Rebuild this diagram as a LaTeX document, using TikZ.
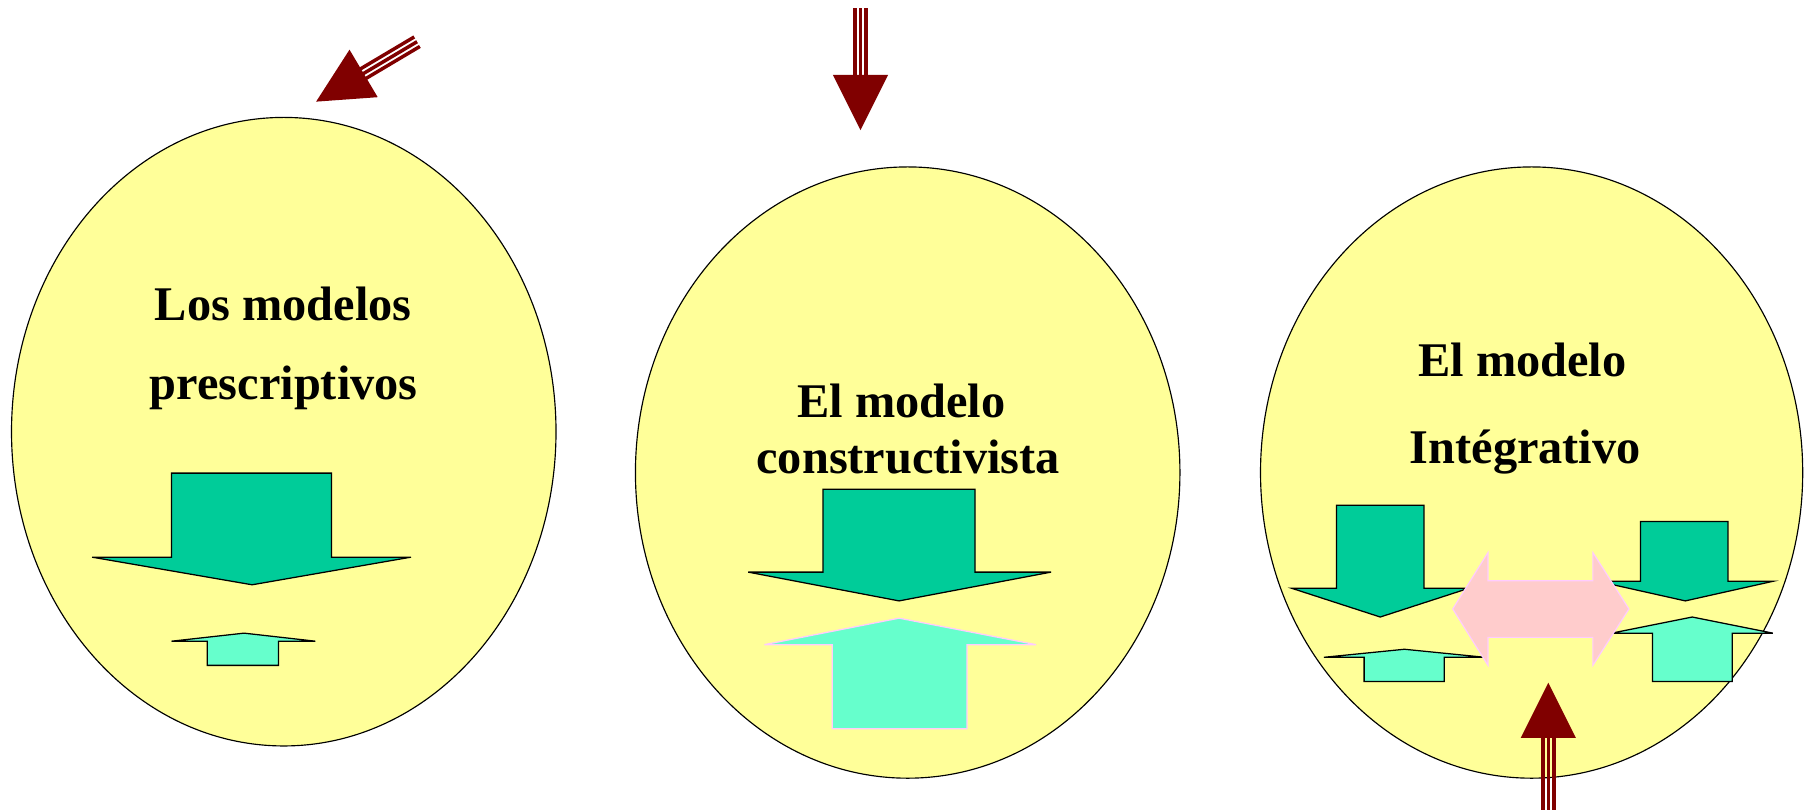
\documentclass[tikz,border=0pt]{standalone}
\usepackage{fontspec}
\setmainfont{Liberation Serif}
\usetikzlibrary{shapes.geometric}
\definecolor{yellowc}{HTML}{FFFF99}
\definecolor{greenc}{HTML}{00CC99}
\definecolor{lightc}{HTML}{66FFCC}
\definecolor{pinkc}{HTML}{FFCCCC}
\definecolor{pinkline}{HTML}{FFCCFF}
\definecolor{maroonc}{HTML}{800000}
\tikzset{
  oval/.style={ellipse, draw=black, line width=1pt, fill=yellowc, inner sep=0pt},
  titletext/.style={font=\bfseries\fontsize{42}{50}\selectfont, inner sep=0pt, anchor=base},
  downarrow/.style={draw=black, line width=1.1pt, fill=greenc, line join=miter},
  uparrow/.style={draw=black, line width=1.1pt, fill=lightc, line join=miter},
  uparrowpink/.style={draw=pinkline, line width=1.1pt, fill=lightc, line join=miter},
  dblarrow/.style={draw=pinkline, line width=1pt, fill=pinkc, line join=miter},
  striparrow/.pic={
    \fill[maroonc] (-24,-48) -- (24,-48) -- (0,0) -- cycle;
    \foreach \d in {-4.8,0,4.8}
      \draw[maroonc, line width=3pt] (\d,-47.5) -- (\d,-#1);
  }
}
\begin{document}
\begin{tikzpicture}[x=1pt,y=-1pt]
\useasboundingbox (0,0) rectangle (1568,703.6);
\fill[white] (0,0) rectangle (1568,703.6);

% ovals
\node[oval, minimum width=473pt, minimum height=546pt] (e1) at (246.5,375) {};
\node[oval, minimum width=473pt, minimum height=531pt] (e2) at (788.5,410.5) {};
\node[oval, minimum width=471pt, minimum height=531pt] (e3) at (1330.5,410.5) {};

% titles
\node[titletext] (t1a) at (246,278) {Los modelos};
\node[titletext] (t1b) at (246.5,347) {prescriptivos};
\node[titletext] (t2a) at (783,363) {El modelo};
\node[titletext] (t2b) at (789,411) {constructivista};
\node[titletext] (t3a) at (1322.5,327) {El modelo};
\node[titletext] (t3b) at (1325,403) {Intégrativo};

% left oval arrows
\draw[downarrow] (149,411) -- (288,411) -- (288,484) -- (357,484) -- (219,508) -- (80,484) -- (149,484) -- cycle;
\draw[uparrow] (180,578) -- (242,578) -- (242,557) -- (274,557) -- (212,550) -- (149,557) -- (180,557) -- cycle;

% middle oval arrows
\draw[downarrow] (715,425) -- (847,425) -- (847,497) -- (913,497) -- (781,522) -- (650,497) -- (715,497) -- cycle;
\draw[uparrowpink] (723,633) -- (840,633) -- (840,560) -- (900,560) -- (781,537) -- (664,560) -- (723,560) -- cycle;

% right oval arrows
\draw[downarrow] (1161,439) -- (1237,439) -- (1237,511) -- (1276,511) -- (1199,536) -- (1122,511) -- (1161,511) -- cycle;
\draw[downarrow] (1425,453) -- (1501,453) -- (1501,505) -- (1540,505) -- (1464,522) -- (1388,505) -- (1425,505) -- cycle;
\draw[uparrow] (1185,592) -- (1254.5,592) -- (1254.5,571) -- (1290,571) -- (1220,564) -- (1150,571) -- (1185,571) -- cycle;
\draw[uparrow] (1435.6,592) -- (1504.8,592) -- (1504.8,550) -- (1540,550) -- (1470,536) -- (1400,550) -- (1435.6,550) -- cycle;
\draw[dblarrow] (1262,529) -- (1292.6,480) -- (1292.6,504.5) -- (1383.7,504.5) -- (1383.7,480) -- (1415,529)
  -- (1383.7,578) -- (1383.7,553.7) -- (1292.6,553.7) -- (1292.6,578) -- cycle;

% maroon striped arrows
\pic[rotate=-59.3] at (274.6,88.3) {striparrow=102};
\pic at (747.5,113) {striparrow=106};
\pic[rotate=180] at (1345,593) {striparrow=120};
\end{tikzpicture}
\end{document}
